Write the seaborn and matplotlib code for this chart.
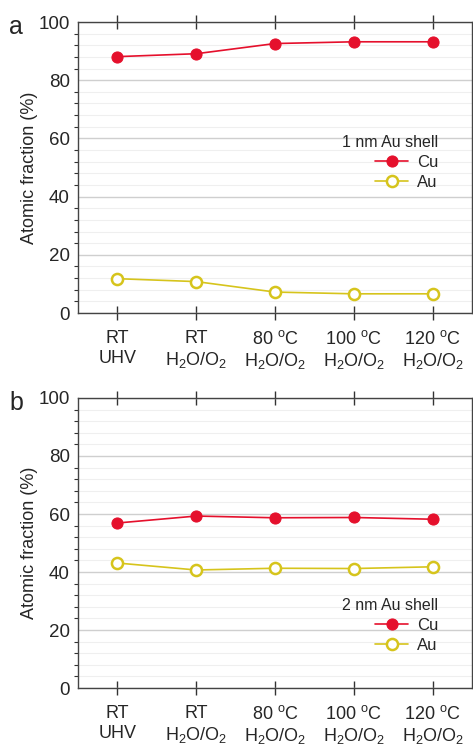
import numpy as np
import pandas as pd
import matplotlib
matplotlib.use('Agg')
import matplotlib.pyplot as plt
from matplotlib.ticker import MultipleLocator
import seaborn as sns

# conditions along the x axis
conditions = ['RT\nUHV',
              'RT\nH$_2$O/O$_2$',
              '80 $^{\\rm o}$C\nH$_2$O/O$_2$',
              '100 $^{\\rm o}$C\nH$_2$O/O$_2$',
              '120 $^{\\rm o}$C\nH$_2$O/O$_2$']

# panel a: 1 nm Au shell
cu_1nm = [88.1, 89.1, 92.6, 93.2, 93.2]
au_1nm = [11.8, 10.8, 7.2, 6.6, 6.6]

# panel b: 2 nm Au shell
cu_2nm = [56.9, 59.3, 58.7, 58.8, 58.2]
au_2nm = [43.1, 40.7, 41.3, 41.2, 41.8]

CU_COLOR = '#e5102c'
AU_COLOR = '#d6c41c'

sns.set_style('white')
plt.rcParams['font.family'] = ['Liberation Sans', 'DejaVu Sans']
plt.rcParams['mathtext.fontset'] = 'custom'
plt.rcParams['mathtext.rm'] = 'Liberation Sans'
plt.rcParams['mathtext.it'] = 'Liberation Sans:italic'


def draw_panel(ax, cu, au, title, letter, legend_anchor):
    df = pd.DataFrame({'pos': np.arange(len(conditions)), 'Cu': cu, 'Au': au})
    sns.lineplot(data=df, x='pos', y='Cu', ax=ax, color=CU_COLOR, marker='o',
                 markersize=8, markeredgecolor=CU_COLOR, markerfacecolor=CU_COLOR,
                 linewidth=1.2, label='Cu', zorder=3)
    sns.lineplot(data=df, x='pos', y='Au', ax=ax, color=AU_COLOR, marker='o',
                 markersize=8, markeredgecolor=AU_COLOR, markerfacecolor='white',
                 markeredgewidth=1.8, linewidth=1.2, label='Au', zorder=3)

    ax.set_xlim(-0.5, len(conditions) - 0.5)
    ax.set_ylim(0, 100)
    ax.set_xticks(df['pos'])
    ax.set_xticklabels(conditions, fontsize=13, linespacing=1.25)
    ax.set_yticks([0, 20, 40, 60, 80, 100])
    ax.yaxis.set_minor_locator(MultipleLocator(4))
    ax.tick_params(axis='y', labelsize=13.5, direction='out', length=5, width=1, color='#333333', pad=1)
    ax.tick_params(axis='y', which='minor', direction='out', length=3, width=0.8, color='#333333', left=True)
    ax.tick_params(axis='x', direction='inout', length=10, width=1, color='#333333',
                   top=True, bottom=True, pad=7)
    ax.set_xlabel('')
    ax.set_ylabel('Atomic fraction (%)', fontsize=13, labelpad=0)

    ax.grid(which='major', axis='y', color='#cfcfcf', linewidth=1)
    ax.grid(which='minor', axis='y', color='#efefef', linewidth=0.8)
    ax.set_axisbelow(True)
    for s in ax.spines.values():
        s.set_color('#444444')
        s.set_linewidth(1)

    ax.legend(title=title, loc='upper right', bbox_to_anchor=legend_anchor,
              frameon=False, fontsize=12, title_fontsize=11.5,
              alignment='right', handlelength=2.0, handletextpad=0.5,
              labelspacing=0.3, borderpad=0)
    ax.text(-0.175, 0.983, letter, transform=ax.transAxes, fontsize=18,
            ha='left', va='center')


fig = plt.figure(figsize=(4.73, 7.46), dpi=100)
ax_a = fig.add_axes([0.165, 0.5804, 0.833, 0.3901])
ax_b = fig.add_axes([0.165, 0.0777, 0.833, 0.3888])

draw_panel(ax_a, cu_1nm, au_1nm, '1 nm Au shell', 'a', (0.935, 0.64))
draw_panel(ax_b, cu_2nm, au_2nm, '2 nm Au shell', 'b', (0.935, 0.34))

fig.savefig('out.png', dpi=100)
